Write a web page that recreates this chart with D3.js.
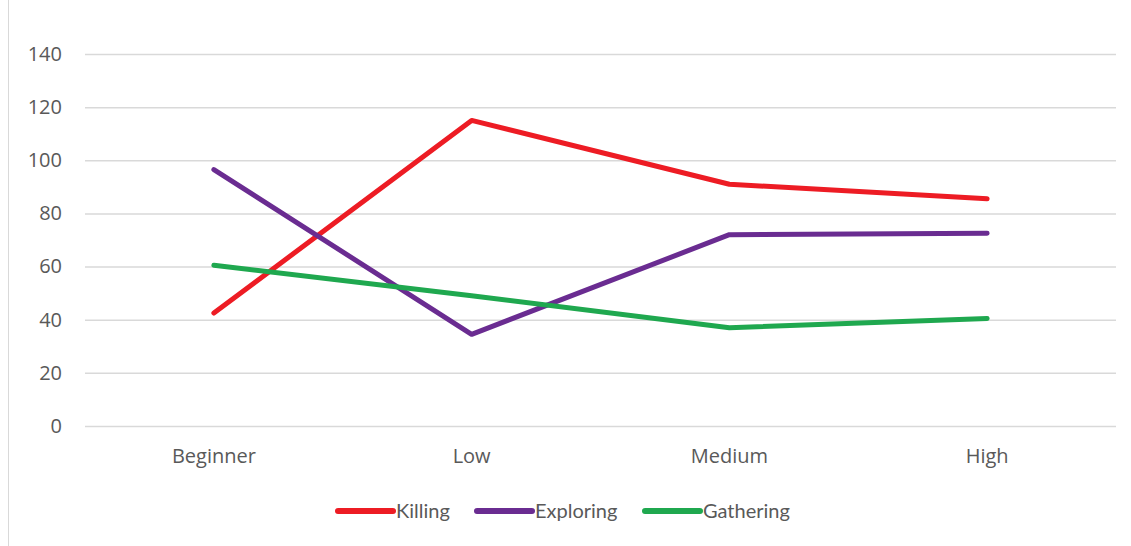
<!DOCTYPE html>
<html><head><meta charset="utf-8">
<script src="https://cdn.jsdelivr.net/npm/d3@7"></script>
<style>body{margin:0;background:#fff}svg{display:block}</style>
</head><body>
<script>
const categories = ["Beginner", "Low", "Medium", "High"];
const killing = [42.5, 115, 91, 85.5];
const exploring = [96.5, 34.5, 72, 72.5];
const gathering = [60.5, 49, 37, 40.5];
const yTicks = [0, 20, 40, 60, 80, 100, 120, 140];
const seriesNames = ["Killing", "Exploring", "Gathering"];
const seriesColors = ["#ED1C24", "#6A2C91", "#1FA84F"];

const series = [killing, exploring, gathering].map((v, i) => ({name: seriesNames[i], color: seriesColors[i], values: v}));

const W = 1131, H = 546;
const svg = d3.select("body").append("svg").attr("width", W).attr("height", H);
const font = "'Open Sans', Lato, sans-serif";
const lfont = "Lato, 'Open Sans', sans-serif";

svg.append("line").attr("x1", 8.5).attr("x2", 8.5).attr("y1", 0).attr("y2", H)
  .attr("stroke", "#d9d9d9").attr("stroke-width", 1);

const x = d3.scaleBand().domain(categories).range([85, 1116]);
const y = d3.scaleLinear().domain([0, 140]).range([426, 54]);

const yAxis = svg.append("g").attr("transform", "translate(85,0)")
  .call(d3.axisLeft(y).tickValues(yTicks).tickSize(-1031).tickPadding(23));
yAxis.select(".domain").remove();
yAxis.selectAll(".tick line").attr("stroke", "#d9d9d9").attr("stroke-width", 1.5);
yAxis.selectAll(".tick text").attr("fill", "#595959").style("font-family", font).style("font-size", "20px");

const xAxis = svg.append("g").attr("transform", "translate(0,426)")
  .call(d3.axisBottom(x).tickSize(0).tickPadding(23));
xAxis.select(".domain").remove();
xAxis.selectAll(".tick text").attr("fill", "#595959").style("font-family", font).style("font-size", "20px");

const line = d3.line().x((d, i) => x(categories[i]) + x.bandwidth() / 2).y(d => y(d));
svg.selectAll(".series").data(series).enter().append("path")
  .attr("d", d => line(d.values)).attr("fill", "none")
  .attr("stroke", d => d.color).attr("stroke-width", 5)
  .attr("stroke-linecap", "round").attr("stroke-linejoin", "round");

const legendX = [338, 477, 645];
const lg = svg.selectAll(".lg").data(series).enter().append("g")
  .attr("transform", (d, i) => `translate(${legendX[i]},511)`);
lg.append("line").attr("x1", 0).attr("x2", 55).attr("stroke", d => d.color)
  .attr("stroke-width", 6).attr("stroke-linecap", "round");
lg.append("text").attr("x", 58).attr("dy", "0.35em").text(d => d.name)
  .attr("fill", "#595959").style("font-family", lfont).style("font-size", "20px");
</script>
</body></html>
